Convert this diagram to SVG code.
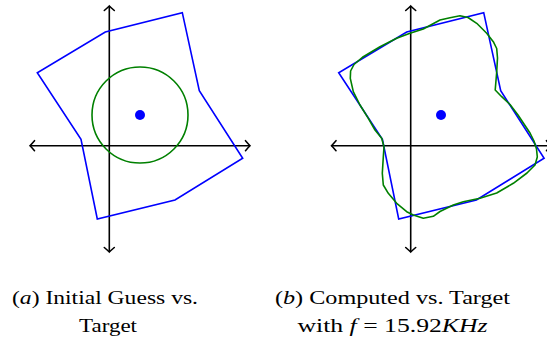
<svg xmlns="http://www.w3.org/2000/svg" width="547" height="341" viewBox="0 0 547 341">
  <style>
    .axis { stroke: #000; stroke-width: 1.6; fill: none; marker-start: url(#arr); marker-end: url(#arr); }
    .poly { stroke: #0000ff; stroke-width: 1.6; fill: none; stroke-linejoin: miter; }
    .fit { stroke: #008000; stroke-width: 1.6; fill: none; stroke-linejoin: round; }
    .dot { fill: #0000ff; }
    .cap { font-family: "Liberation Serif", "DejaVu Serif", serif; font-size: 18px; fill: #000; text-anchor: middle; }
    .it { font-style: italic; }
  </style>
  <defs>
    <marker id="arr" markerUnits="userSpaceOnUse" viewBox="-6 -6 8 12" markerWidth="8" markerHeight="12" refX="0" refY="0" orient="auto-start-reverse" overflow="visible">
      <path d="M -4.5,-5 Q -1.2,-1.2 0,0 Q -1.2,1.2 -4.5,5" fill="none" stroke="#000" stroke-width="1.6" stroke-linecap="round"/>
    </marker>
    <polygon id="shape" points="182.3,12.7 199.3,90.7 242.7,158.3 175,200 97.3,219 81,139.3 37.3,72.7 105.3,32"/>
  </defs>

  <g id="panel-a">
    <g id="connectors-a">
      <line class="axis" x1="109.3" y1="252" x2="109.3" y2="6"/>
      <line class="axis" x1="30" y1="145.7" x2="250" y2="145.7"/>
    </g>
    <g id="target-a"><use href="#shape" class="poly"/></g>
    <g id="guess-a"><circle cx="140" cy="115" r="48" class="fit"/></g>
    <g id="center-a"><circle cx="140" cy="115" r="5" class="dot"/></g>
  </g>

  <g id="panel-b">
    <g id="connectors-b">
      <line class="axis" x1="410.7" y1="252" x2="410.7" y2="6"/>
      <line class="axis" x1="331.5" y1="145.7" x2="551" y2="145.7"/>
    </g>
    <g id="target-b"><use href="#shape" class="poly" transform="translate(301.4,0)"/></g>
    <g id="computed-b">
      <path class="fit" d="M440,20 L450,17.7 L460,15.8 L468,17.5 L476.7,23.3 L486.7,33.3 L493.3,41.7 L496.7,48.5 L497.5,58 L496.7,72 L495.7,84 L495.2,90 L501.7,96.7 L510,104.5 L518,115 L524,124 L530,133 L534,141 L536.5,149 L537.3,157 L535,165 L527,173 L513.3,183.3 L496.7,193 L480,198.3 L463.3,201.7 L453.3,205 L440,211.5 L433.3,216.3 L423.3,218.3 L413.3,215 L406.7,211.7 L396.7,203.3 L388.3,193.3 L383.3,185 L382.3,173.3 L383.3,157 L384,147 L381.7,138.3 L375,130 L368.3,118.3 L360,105 L353.3,91.7 L350.3,78.3 L350.6,71 L354,64.5 L363.3,56.7 L380,46.7 L396.7,38.3 L410,33.3 L423.3,29 Z"/>
    </g>
    <g id="center-b"><circle cx="441" cy="115" r="5" class="dot"/></g>
  </g>

  <g id="captions">
    <text class="cap" x="105" y="304" textLength="186" lengthAdjust="spacingAndGlyphs">(<tspan class="it">a</tspan>) Initial Guess vs.</text>
    <text class="cap" x="108" y="331.7" textLength="58" lengthAdjust="spacingAndGlyphs">Target</text>
    <text class="cap" x="392.5" y="304" textLength="235" lengthAdjust="spacingAndGlyphs">(<tspan class="it">b</tspan>) Computed vs. Target</text>
    <text class="cap" x="392.5" y="331.7" textLength="190" lengthAdjust="spacingAndGlyphs">with <tspan class="it">f</tspan> = 15.92<tspan class="it">KHz</tspan></text>
  </g>
</svg>
